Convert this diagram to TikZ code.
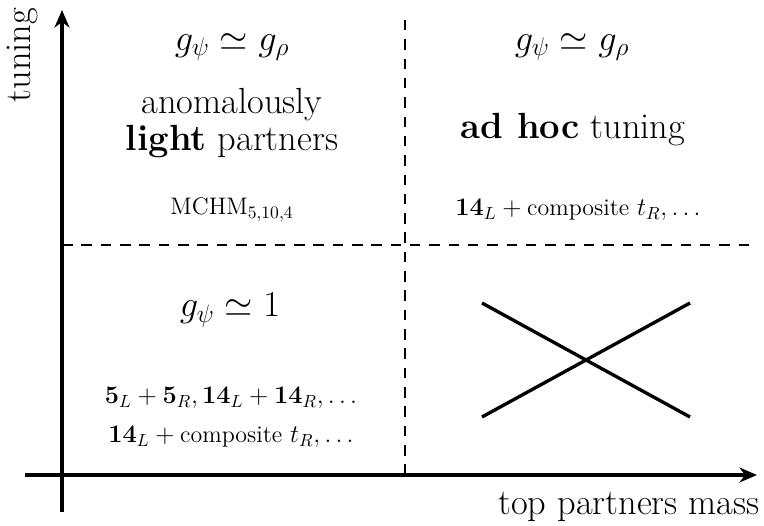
\documentclass[tikz,border=0pt]{standalone}
\usepackage{amsmath,amssymb}
\usetikzlibrary{arrows.meta,positioning}

\begin{document}
\begin{tikzpicture}[
  axis/.style={line width=1.8pt,-{Stealth[length=10pt,width=8.5pt]}},
  split/.style={line width=1.2pt,dash pattern=on 6pt off 5pt},
  cross/.style={line width=1.9pt},
  big/.style={font=\fontsize{20.7}{21}\selectfont,align=center},
  small/.style={font=\fontsize{13.6}{16}\selectfont,align=center},
]
  \useasboundingbox (-1.24,-1.00) rectangle (14.04,9.50);

  % Axes
  \coordinate (ybot) at (0,-0.74);
  \coordinate (ytop) at (0,9.30);
  \coordinate (xleft) at (-0.74,0);
  \coordinate (xright) at (13.90,0);
  \draw[axis] (ybot) -- (ytop);
  \draw[axis] (xleft) -- (xright);
  \node[big,rotate=90] (ylab) at (-0.80,8.40) {tuning};
  \node[big] (xlab) at (11.34,-0.64) {top partners mass};

  % Dashed borders of the regions
  \coordinate (vbot) at (6.86,0);
  \coordinate (vtop) at (6.86,9.20);
  \coordinate (hleft) at (0,4.60);
  \coordinate (hright) at (13.76,4.60);
  \draw[split] (vbot) -- (vtop);
  \draw[split] (hleft) -- (hright);

  % Upper left
  \node[big] (gtl) at (3.40,8.56) {$g_\psi \simeq g_\rho$};
  \node[big] (light) at (3.40,7.04) {anomalously\\\textbf{light} partners};
  \node[small] (mchm) at (3.40,5.30) {MCHM$_{5,10,4}$};

  % Upper right
  \node[big] (gtr) at (10.20,8.56) {$g_\psi \simeq g_\rho$};
  \node[big] (adhoc) at (10.22,6.90) {\textbf{ad hoc} tuning};
  \node[small] (comptr) at (10.32,5.30) {$\mathbf{14}_L+{}$composite $t_R,\ldots$};

  % Lower left
  \node[big] (gbl) at (3.36,3.30) {$g_\psi \simeq 1$};
  \node[small] (fives) at (3.38,1.54) {$\mathbf{5}_L+\mathbf{5}_R,\mathbf{14}_L+\mathbf{14}_R,\ldots$};
  \node[small] (compbl) at (3.38,0.76) {$\mathbf{14}_L+{}$composite $t_R,\ldots$};

  % Lower right: excluded
  \coordinate (c1) at (8.40,1.16);
  \coordinate (c2) at (12.56,3.44);
  \coordinate (c3) at (8.40,3.44);
  \coordinate (c4) at (12.56,1.16);
  \draw[cross] (c1) -- (c2);
  \draw[cross] (c3) -- (c4);
\end{tikzpicture}
\end{document}
